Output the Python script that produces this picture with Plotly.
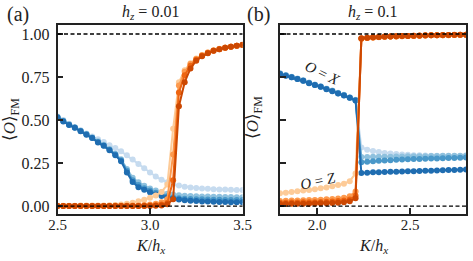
import plotly.graph_objects as go

# ---------------- data ----------------
x_a = [2.5, 2.53125, 2.5625, 2.59375, 2.625, 2.65625, 2.6875, 2.71875, 2.75, 2.78125,
       2.8125, 2.84375, 2.875, 2.90625, 2.9375, 2.96875, 3.0, 3.03125, 3.0625, 3.09375,
       3.125, 3.15625, 3.1875, 3.21875, 3.25, 3.28125, 3.3125, 3.34375, 3.375, 3.40625,
       3.4375, 3.46875, 3.5]

blue_a1 = [0.52, 0.50, 0.478, 0.458, 0.44, 0.422, 0.404, 0.388, 0.372, 0.354,
           0.337, 0.318, 0.295, 0.27, 0.245, 0.22, 0.195, 0.172, 0.153, 0.138,
           0.127, 0.119, 0.113, 0.108, 0.105, 0.102, 0.1, 0.098, 0.097, 0.096,
           0.095, 0.094, 0.093]
blue_a2 = [0.518, 0.496, 0.475, 0.457, 0.438, 0.419, 0.399, 0.377, 0.356, 0.332,
           0.304, 0.272, 0.215, 0.165, 0.138, 0.118, 0.102, 0.09, 0.08, 0.072,
           0.067, 0.063, 0.06, 0.058, 0.057, 0.056, 0.055, 0.054, 0.054, 0.053,
           0.053, 0.052, 0.052]
blue_a3 = [0.516, 0.494, 0.473, 0.456, 0.436, 0.417, 0.397, 0.373, 0.352, 0.328,
           0.3, 0.266, 0.205, 0.15, 0.122, 0.104, 0.09, 0.077, 0.066, 0.057,
           0.05, 0.046, 0.043, 0.041, 0.04, 0.039, 0.038, 0.037, 0.037, 0.036,
           0.036, 0.035, 0.035]
blue_a4 = [0.515, 0.492, 0.471, 0.455, 0.435, 0.415, 0.395, 0.37, 0.35, 0.325,
           0.295, 0.26, 0.195, 0.14, 0.11, 0.095, 0.08, 0.068, 0.058, 0.05,
           0.043, 0.038, 0.034, 0.031, 0.029, 0.027, 0.026, 0.025, 0.024, 0.024,
           0.023, 0.023, 0.022]

orange_a1 = [0.002, 0.002, 0.002, 0.002, 0.003, 0.003, 0.003, 0.004, 0.004, 0.005,
             0.006, 0.009, 0.013, 0.02, 0.028, 0.037, 0.048, 0.062, 0.082, 0.125,
             0.45, 0.72, 0.79, 0.83, 0.858, 0.878, 0.893, 0.905, 0.914, 0.921,
             0.927, 0.932, 0.937]
orange_a2 = [0.001, 0.001, 0.001, 0.001, 0.001, 0.001, 0.001, 0.001, 0.001, 0.001,
             0.002, 0.002, 0.003, 0.003, 0.004, 0.006, 0.009, 0.014, 0.022, 0.04,
             0.3, 0.7, 0.78, 0.825, 0.855, 0.876, 0.892, 0.904, 0.913, 0.92,
             0.926, 0.931, 0.936]
orange_a3 = [0.0, 0.0, 0.0, 0.0, 0.0, 0.0, 0.0, 0.0, 0.0, 0.0,
             0.0, 0.0, 0.001, 0.001, 0.001, 0.002, 0.003, 0.005, 0.009, 0.018,
             0.15, 0.66, 0.76, 0.815, 0.85, 0.873, 0.89, 0.903, 0.912, 0.92,
             0.926, 0.931, 0.936]
orange_a4 = [0.0, 0.0, 0.0, 0.0, 0.0, 0.0, 0.0, 0.0, 0.0, 0.0,
             0.0, 0.0, 0.0, 0.0, 0.0, 0.0, 0.001, 0.002, 0.004, 0.01,
             0.04, 0.58, 0.72, 0.8, 0.845, 0.87, 0.888, 0.902, 0.912, 0.92,
             0.926, 0.931, 0.937]

x_b = [1.8, 1.83125, 1.8625, 1.89375, 1.925, 1.95625, 1.9875, 2.01875, 2.05, 2.08125,
       2.1125, 2.14375, 2.175, 2.20625, 2.2375, 2.26875, 2.3, 2.33125, 2.3625, 2.39375,
       2.425, 2.45625, 2.4875, 2.51875, 2.55, 2.58125, 2.6125, 2.64375, 2.675, 2.70625,
       2.7375, 2.76875, 2.8]

blue_b1 = [0.772, 0.762, 0.752, 0.742, 0.732, 0.718, 0.707, 0.697, 0.683, 0.672,
           0.658, 0.647, 0.633, 0.618, 0.34, 0.328, 0.32, 0.314, 0.309, 0.305,
           0.302, 0.3, 0.298, 0.296, 0.295, 0.294, 0.293, 0.292, 0.291, 0.29,
           0.29, 0.29, 0.289]
blue_b2 = [0.77, 0.76, 0.75, 0.74, 0.73, 0.716, 0.705, 0.695, 0.681, 0.67,
           0.656, 0.645, 0.631, 0.616, 0.285, 0.285, 0.286, 0.286, 0.287, 0.287,
           0.288, 0.288, 0.289, 0.289, 0.29, 0.29, 0.291, 0.291, 0.292, 0.292,
           0.293, 0.293, 0.294]
blue_b3 = [0.769, 0.759, 0.749, 0.739, 0.729, 0.715, 0.704, 0.694, 0.68, 0.669,
           0.655, 0.644, 0.63, 0.615, 0.255, 0.258, 0.261, 0.263, 0.265, 0.267,
           0.269, 0.27, 0.272, 0.273, 0.274, 0.275, 0.276, 0.277, 0.278, 0.279,
           0.28, 0.281, 0.282]
blue_b4 = [0.768, 0.758, 0.748, 0.738, 0.728, 0.714, 0.703, 0.693, 0.679, 0.668,
           0.654, 0.643, 0.629, 0.614, 0.192, 0.194, 0.196, 0.197, 0.198, 0.199,
           0.2, 0.201, 0.202, 0.203, 0.204, 0.205, 0.206, 0.207, 0.208, 0.209,
           0.21, 0.211, 0.212]

orange_b1 = [0.075, 0.078, 0.082, 0.086, 0.09, 0.094, 0.098, 0.103, 0.108, 0.115,
             0.122, 0.13, 0.145, 0.19, 0.972, 0.976, 0.979, 0.981, 0.983, 0.985,
             0.986, 0.987, 0.988, 0.989, 0.99, 0.991, 0.992, 0.992, 0.993, 0.993,
             0.994, 0.994, 0.995]
orange_b2 = [0.03, 0.031, 0.032, 0.033, 0.034, 0.035, 0.036, 0.037, 0.039, 0.041,
             0.044, 0.049, 0.057, 0.085, 0.973, 0.977, 0.98, 0.982, 0.984, 0.985,
             0.986, 0.987, 0.988, 0.989, 0.99, 0.991, 0.992, 0.992, 0.993, 0.993,
             0.994, 0.994, 0.995]
orange_b3 = [0.02, 0.02, 0.021, 0.021, 0.022, 0.022, 0.023, 0.024, 0.025, 0.027,
             0.029, 0.032, 0.038, 0.06, 0.974, 0.978, 0.98, 0.982, 0.984, 0.986,
             0.987, 0.988, 0.989, 0.99, 0.99, 0.991, 0.992, 0.993, 0.993, 0.994,
             0.994, 0.995, 0.995]
orange_b4 = [0.012, 0.012, 0.013, 0.013, 0.014, 0.014, 0.015, 0.016, 0.017, 0.018,
             0.02, 0.023, 0.028, 0.045, 0.975, 0.978, 0.981, 0.983, 0.985, 0.986,
             0.987, 0.988, 0.989, 0.99, 0.991, 0.992, 0.992, 0.993, 0.994, 0.994,
             0.995, 0.995, 0.996]

y_ticks = [0.0, 0.25, 0.5, 0.75, 1.0]
y_ticklabels = ["0.00", "0.25", "0.50", "0.75", "1.00"]
x_ticks_a = [2.5, 3.0, 3.5]
x_ticks_b = [2.0, 2.5]

blues = ["#c6dbef", "#8fc1de", "#4a98c9", "#1f6db1"]
oranges = ["#fdcb98", "#fd9a4e", "#ee6511", "#cc4802"]

# ---------------- figure ----------------
W, H = 473, 261
def px(x):
    return x / W
def py(y):
    return 1 - y / H

fig = go.Figure()

def add(xs, ys, color, xa, ya):
    fig.add_trace(go.Scatter(x=xs, y=ys, mode="lines+markers", xaxis=xa, yaxis=ya,
                             line=dict(color=color, width=2),
                             marker=dict(color=color, size=6, line=dict(width=0)),
                             showlegend=False, hoverinfo="skip"))

for ys, c in zip([blue_a1, blue_a2, blue_a3, blue_a4], blues):
    add(x_a, ys, c, "x", "y")
for ys, c in zip([orange_a1, orange_a2, orange_a3, orange_a4], oranges):
    add(x_a, ys, c, "x", "y")
for ys, c in zip([blue_b1, blue_b2, blue_b3, blue_b4], blues):
    add(x_b, ys, c, "x2", "y2")
for ys, c in zip([orange_b1, orange_b2, orange_b3, orange_b4], oranges):
    add(x_b, ys, c, "x2", "y2")

serif = "Liberation Serif, DejaVu Serif, Times New Roman, serif"
axis_common = dict(showline=True, mirror=True, linecolor="#222", linewidth=1.5,
                   ticks="inside", ticklen=6, tickwidth=1.5, tickcolor="#222",
                   showgrid=False, zeroline=False, automargin=False)
tick_font = dict(family=serif, size=16, color="#222")
xtick_font = dict(family=serif, size=15, color="#222")

yrange = [-0.046, 1.054]
fig.update_layout(
    width=W, height=H, margin=dict(l=0, r=0, t=0, b=0, autoexpand=False),
    paper_bgcolor="white", plot_bgcolor="white",
    font=dict(family=serif),
    xaxis=dict(domain=[px(57.5), px(242.5)], range=[2.5, 3.5], tickvals=x_ticks_a,
               ticktext=[f"{v:.1f}" for v in x_ticks_a], anchor="y",
               tickfont=xtick_font, ticklabelstandoff=-4, **axis_common),
    yaxis=dict(domain=[py(214), py(24.7)], range=yrange, tickvals=y_ticks,
               ticktext=y_ticklabels, anchor="x", tickfont=tick_font,
               ticklabelstandoff=3, **axis_common),
    xaxis2=dict(domain=[px(280), px(466)], range=[1.8, 2.8], tickvals=x_ticks_b,
                ticktext=[f"{v:.1f}" for v in x_ticks_b], anchor="y2",
                tickfont=xtick_font, ticklabelstandoff=-4, **axis_common),
    yaxis2=dict(domain=[py(214), py(24.7)], range=yrange, tickvals=y_ticks,
                showticklabels=False, anchor="x2", **axis_common),
)

# dashed reference lines
for xr, yr in [("x", "y"), ("x2", "y2")]:
    for yv in [0.0, 1.0]:
        fig.add_shape(type="line", xref=f"{xr} domain", yref=yr, x0=0, x1=1, y0=yv, y1=yv,
                      line=dict(color="black", width=1.3, dash="4px,2.5px"), layer="above")

def ann(text, x, y, size=15, angle=0):
    fig.add_annotation(text=text, x=px(x), y=py(y), xref="paper", yref="paper",
                       showarrow=False, textangle=angle,
                       font=dict(family=serif, size=size, color="#222"),
                       xanchor="center", yanchor="middle")

ann("(a)", 18, 14, size=20)
ann("(b)", 258, 14, size=20)
ann("<i>h</i><sub><i>z</i></sub> = 0.01", 150, 13, size=16)
ann("<i>h</i><sub><i>z</i></sub> = 0.1", 372, 13, size=16)
ann("<i>K</i>/<i>h</i><sub><i>x</i></sub>", 150, 246, size=16)
ann("<i>K</i>/<i>h</i><sub><i>x</i></sub>", 373, 246, size=16)
ann("⟨<i>O</i>⟩<sub>FM</sub>", 11, 120, size=17, angle=-90)
ann("⟨<i>O</i>⟩<sub>FM</sub>", 254, 118, size=17, angle=-90)
ann("<i>O</i> = <i>X</i>", 322, 73, size=15, angle=26)
ann("<i>O</i> = <i>Z</i>", 318, 181, size=15, angle=-12)

fig.write_html("out.html", config={"displayModeBar": False},
               post_script="document.body.style.margin='0px';")
